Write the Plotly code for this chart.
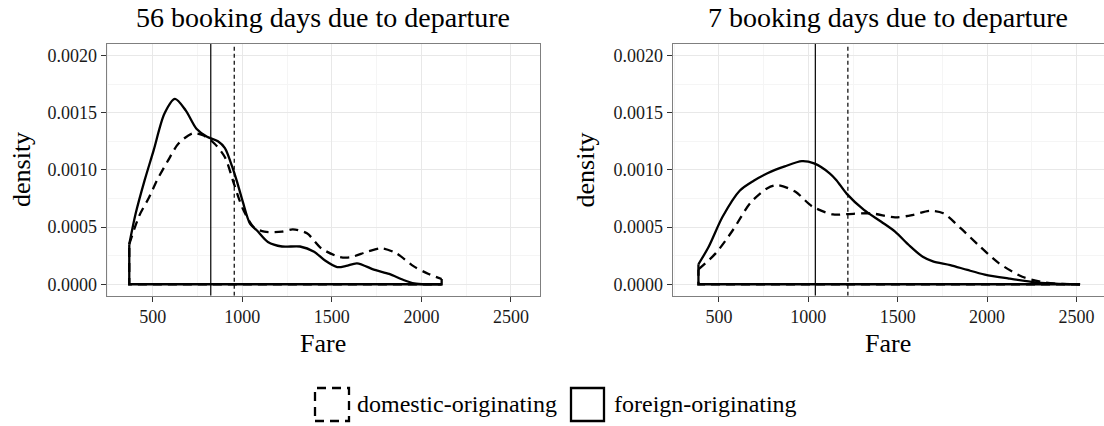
import plotly.graph_objects as go

W, H = 1104, 426
FONT = "Liberation Serif"

# ---- data: 56 booking days due to departure ----
fare56_dom = [369, 425, 480, 524, 585, 644, 724, 784, 844, 903, 955, 1003, 1063, 1123, 1222, 1282,
              1361, 1441, 1541, 1601, 1700, 1780, 1860, 1960, 2040, 2113]
dens56_dom = [0.00035, 0.00060, 0.00076, 0.00091, 0.00108, 0.00123, 0.00132, 0.00130, 0.00123, 0.00111,
              0.00087, 0.00066, 0.00050, 0.00046, 0.00046, 0.00048, 0.000445, 0.000314, 0.00024, 0.000236,
              0.000285, 0.000314, 0.00027, 0.000154, 0.00009, 0.000046]
fare56_for = [369, 405, 455, 505, 565, 624, 684, 744, 803, 864, 903, 943, 970, 1003, 1043, 1082, 1143,
              1222, 1322, 1401, 1460, 1530, 1580, 1640, 1740, 1820, 1900, 1960, 2030, 2113]
dens56_for = [0.00035, 0.00062, 0.00091, 0.00117, 0.00149, 0.00162, 0.00152, 0.00136, 0.00129, 0.00125,
              0.00119, 0.00103, 0.00090, 0.00072, 0.00053, 0.00047, 0.00037, 0.00033, 0.00033, 0.000285,
              0.00021, 0.00015, 0.00016, 0.000183, 0.000125, 0.00009, 0.0000375, 0.000008, 0.0, 0.0]
mean56 = {"domestic": 955, "foreign": 824}

# ---- data: 7 booking days due to departure ----
fare7_dom = [385, 481, 578, 675, 771, 829, 926, 1022, 1138, 1215, 1350, 1485, 1582, 1678, 1755, 1852,
             1960, 2067, 2197, 2327, 2420, 2520]
dens7_dom = [0.00013, 0.00027, 0.000474, 0.00071, 0.00084, 0.000866, 0.00081, 0.00068, 0.00061, 0.000613,
             0.00062, 0.000585, 0.000605, 0.000642, 0.00062, 0.00049, 0.00033, 0.000183, 0.000066,
             0.000015, 0.000003, 0.0]
fare7_for = [385, 443, 520, 617, 694, 771, 868, 964, 1032, 1119, 1157, 1215, 1311, 1408, 1485, 1562,
             1640, 1697, 1794, 1890, 1987, 2122, 2276, 2400, 2520]
dens7_for = [0.000175, 0.00033, 0.00059, 0.00082, 0.000905, 0.00097, 0.00103, 0.001076, 0.001056, 0.00097,
             0.00091, 0.00079, 0.00065, 0.000546, 0.00046, 0.000343, 0.00024, 0.0002, 0.000168, 0.000125,
             0.000085, 0.00005, 0.000016, 0.000004, 0.0]
mean7 = {"domestic": 1221, "foreign": 1039}

titles = ["56 booking days due to departure", "7 booking days due to departure"]
legend_labels = ["domestic-originating", "foreign-originating"]
x_ticks = [500, 1000, 1500, 2000, 2500]
y_ticks = [0.0, 0.0005, 0.0010, 0.0015, 0.0020]

# ---- layout geometry (pixels) ----
px_l = (106.7, 540.0)
px_r = (672.7, 1104.0)
py = (44.0, 295.7)
xrange_l = [243, 2662]
xrange_r = [241, 2654]
yrange = [-0.0001, 0.0021]

DASH_CURVE = "9px,6px"
DASH_VLINE = "4px,3px"
LW = 2.3

fig = go.Figure()


def add_panel(xa, ya, fd, dd, ff, df, means):
    for fx, dy, dash in [(fd, dd, DASH_CURVE), (ff, df, "solid")]:
        fig.add_trace(go.Scatter(x=[fx[-1], fx[-1], fx[0], fx[0]], y=[dy[-1], 0, 0, dy[0]],
                                 mode="lines", xaxis=xa, yaxis=ya, showlegend=False, hoverinfo="skip",
                                 line=dict(color="black", width=LW, dash=dash)))
    fig.add_trace(go.Scatter(x=fd, y=dd, mode="lines", xaxis=xa, yaxis=ya, showlegend=False,
                             line=dict(color="black", width=LW, dash=DASH_CURVE, shape="spline", smoothing=0.8)))
    fig.add_trace(go.Scatter(x=ff, y=df, mode="lines", xaxis=xa, yaxis=ya, showlegend=False,
                             line=dict(color="black", width=LW, shape="spline", smoothing=0.8)))
    fig.add_trace(go.Scatter(x=[means["foreign"]] * 2, y=yrange, mode="lines", xaxis=xa, yaxis=ya,
                             showlegend=False, line=dict(color="black", width=1.2)))
    fig.add_trace(go.Scatter(x=[means["domestic"]] * 2, y=yrange, mode="lines", xaxis=xa, yaxis=ya,
                             showlegend=False, line=dict(color="black", width=1.2, dash=DASH_VLINE)))


add_panel("x", "y", fare56_dom, dens56_dom, fare56_for, dens56_for, mean56)
add_panel("x2", "y2", fare7_dom, dens7_dom, fare7_for, dens7_for, mean7)

tickfont = dict(family=FONT, size=18, color="#1a1a1a")
common_x = dict(tickvals=x_ticks, ticks="outside", ticklen=5, tickcolor="#333333",
                showline=True, linecolor="#7f7f7f", linewidth=1.2, mirror=True,
                showgrid=True, gridcolor="#e8e8e8", gridwidth=1, zeroline=False,
                tickfont=tickfont, minor=dict(dtick=250, tick0=0, showgrid=True, gridcolor="#f5f5f5"))
common_y = dict(range=yrange, tickvals=y_ticks, tickformat=".4f", ticks="outside", ticklen=5,
                tickcolor="#333333", showline=True, linecolor="#7f7f7f", linewidth=1.2, mirror=True,
                showgrid=True, gridcolor="#e8e8e8", gridwidth=1, zeroline=False, tickfont=tickfont,
                minor=dict(dtick=0.00025, tick0=0, showgrid=True, gridcolor="#f5f5f5"))

ydom = [1 - py[1] / H, 1 - py[0] / H]
fig.update_layout(
    width=W, height=H, margin=dict(l=0, r=0, t=0, b=0),
    font=dict(family=FONT, color="black"),
    paper_bgcolor="white", plot_bgcolor="white", showlegend=False,
    xaxis=dict(common_x, range=xrange_l, domain=[px_l[0] / W, px_l[1] / W], anchor="y"),
    yaxis=dict(common_y, domain=ydom, anchor="x"),
    xaxis2=dict(common_x, range=xrange_r, domain=[px_r[0] / W, px_r[1] / W], anchor="y2"),
    yaxis2=dict(common_y, domain=ydom, anchor="x2"),
)

ann = []
for (x0, x1), t in zip([px_l, px_r], titles):
    cx = (x0 + x1) / 2 / W
    ann.append(dict(text=t, x=cx, y=1 - 18 / H, xref="paper", yref="paper", showarrow=False,
                    xanchor="center", yanchor="middle", font=dict(family=FONT, size=28, color="black")))
    ann.append(dict(text="Fare", x=cx, y=1 - 343 / H, xref="paper", yref="paper", showarrow=False,
                    xanchor="center", yanchor="middle", font=dict(family=FONT, size=26, color="black")))
for cx in [21, 584.5]:
    ann.append(dict(text="density", x=cx / W, y=1 - 170 / H, xref="paper", yref="paper", showarrow=False,
                    textangle=-90, xanchor="center", yanchor="middle",
                    font=dict(family=FONT, size=26, color="black")))

key_y0, key_y1 = 388, 421
keys = [(315, 349, DASH_CURVE), (571, 604, "solid")]
text_x = [355, 612]
shapes = []
for (kx0, kx1, dash), tx, lab in zip(keys, text_x, legend_labels):
    shapes.append(dict(type="rect", xref="paper", yref="paper", x0=kx0 / W, x1=kx1 / W,
                       y0=1 - key_y1 / H, y1=1 - key_y0 / H,
                       line=dict(color="black", width=LW, dash=dash)))
    ann.append(dict(text=lab, x=tx / W, y=1 - 404 / H, xref="paper", yref="paper", showarrow=False,
                    xanchor="left", yanchor="middle", font=dict(family=FONT, size=24, color="black")))

fig.update_layout(annotations=ann, shapes=shapes)
fig.write_html("out.html", config={"displayModeBar": False},
               post_script="document.body.style.margin='0';document.body.style.padding='0';")
